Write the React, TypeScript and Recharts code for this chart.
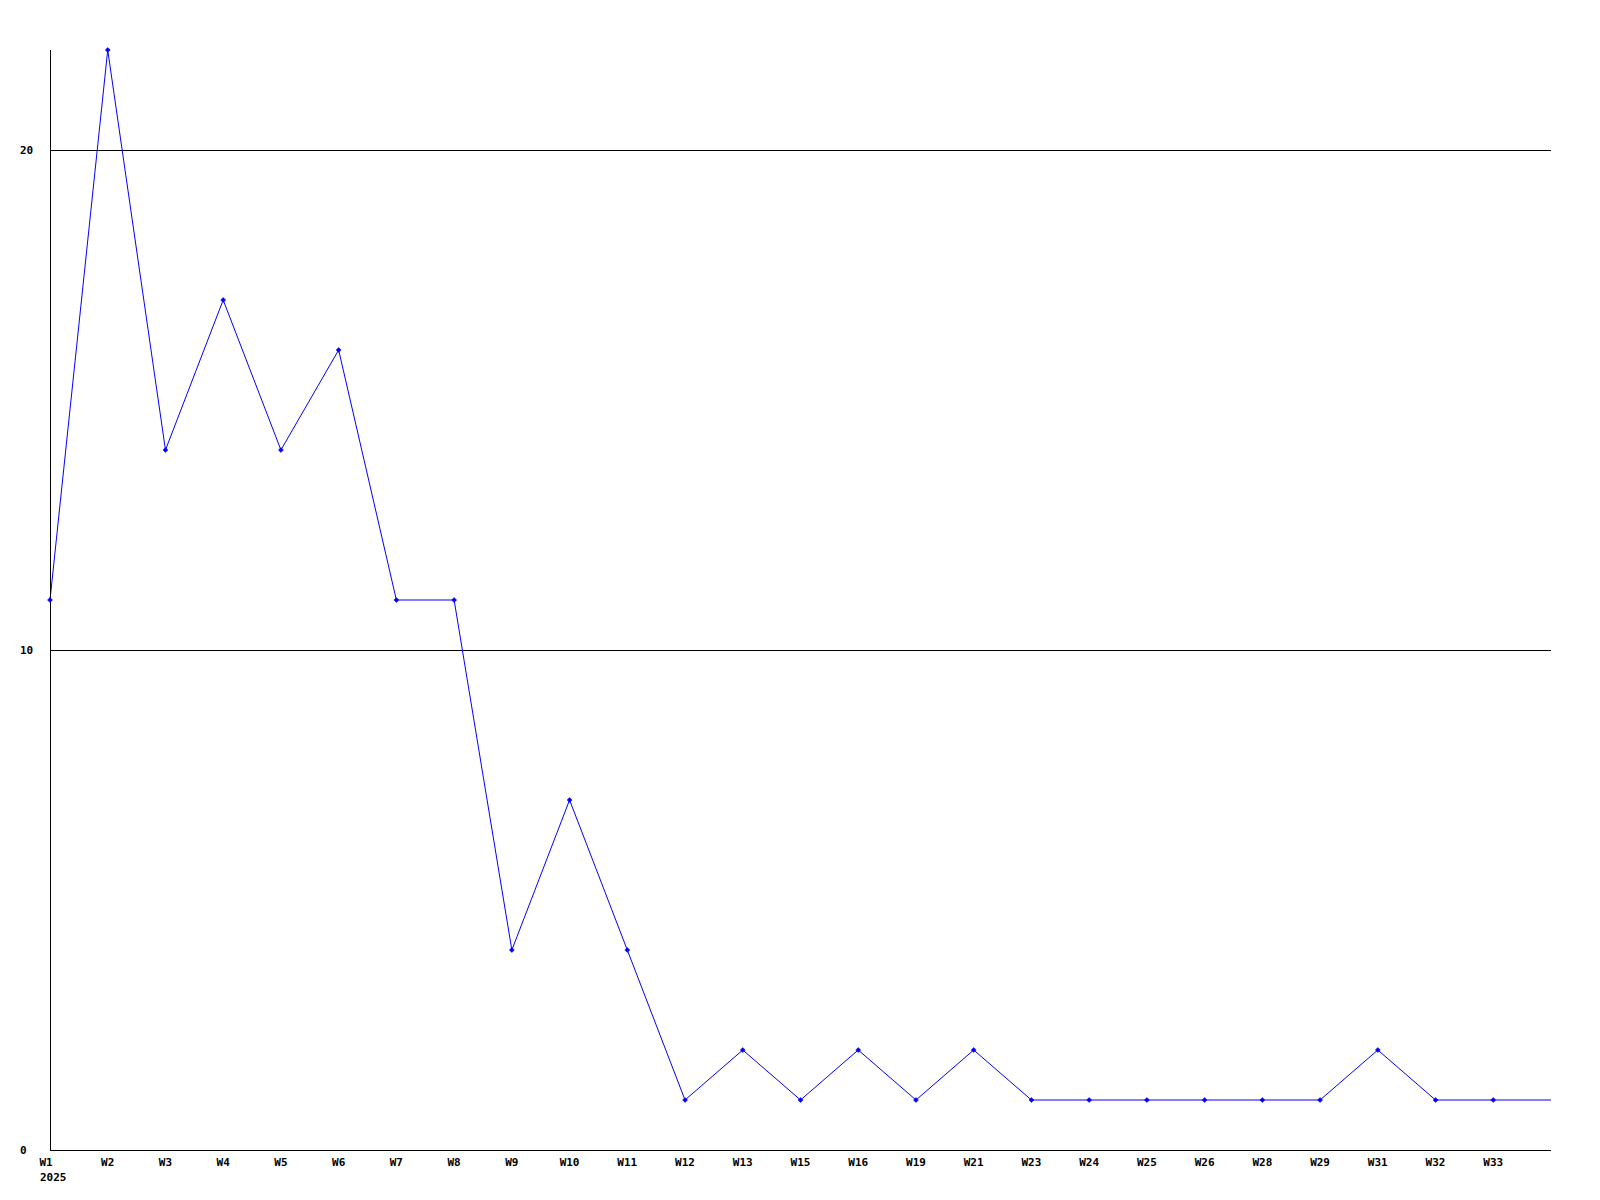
import { LineChart, Line, XAxis, YAxis, ReferenceLine } from "recharts";

const weeks = [
  "W1", "W2", "W3", "W4", "W5", "W6", "W7", "W8", "W9", "W10", "W11", "W12", "W13",
  "W15", "W16", "W19", "W21", "W23", "W24", "W25", "W26", "W28", "W29", "W31", "W32", "W33", "",
];
const counts = [11, 22, 14, 17, 14, 16, 11, 11, 4, 7, 4, 1, 2, 1, 2, 1, 2, 1, 1, 1, 1, 1, 1, 2, 1, 1, 1];
const yTicks = [0, 10, 20];
const gridValues = [10, 20];
const yearLabel = "2025";

const data = counts.map((v, i) => ({ idx: i, week: weeks[i], count: v }));
const xTicks = weeks.slice(0, weeks.length - 1).map((_, i) => i);

const FONT = "'DejaVu Sans Mono', 'Liberation Mono', monospace";

const XTick = (props: any) => {
  const { x, y, payload } = props;
  const label = weeks[payload.value];
  const first = payload.value === 0;
  return (
    <g>
      <text x={first ? x - 4 : x} y={y} dy={14} textAnchor="middle" fontFamily={FONT} fontSize={11} fontWeight="bold" fill="#000">
        {label}
      </text>
      {first && (
        <text x={x - 10} y={y} dy={29} textAnchor="start" fontFamily={FONT} fontSize={11} fontWeight="bold" fill="#000">
          {yearLabel}
        </text>
      )}
    </g>
  );
};

const YTick = (props: any) => {
  const { y, payload } = props;
  return (
    <text x={20} y={y} dy={4} textAnchor="start" fontFamily={FONT} fontSize={11} fontWeight="bold" fill="#000">
      {payload.value}
    </text>
  );
};

const Dot = (props: any) => {
  const { cx, cy, index } = props;
  if (index === counts.length - 1) return <g key={index} />;
  return (
    <path
      key={index}
      d={`M${cx - 2.5},${cy} L${cx},${cy - 2.5} L${cx + 2.5},${cy} L${cx},${cy + 2.5} Z`}
      fill="#0000ff"
      stroke="#0000ff"
      strokeWidth={0.5}
    />
  );
};

export default function App() {
  return (
    <div style={{ position: "absolute", left: 0, top: 0, width: 1600, height: 1200, background: "#fff" }}>
      <LineChart width={1600} height={1200} data={data} margin={{ top: 50, right: 49, left: 0, bottom: 0 }}>
        <XAxis
          dataKey="idx"
          type="number"
          domain={[0, 26]}
          ticks={xTicks}
          interval={0}
          height={50}
          tickLine={false}
          tickSize={0}
          axisLine={{ stroke: "#000", shapeRendering: "crispEdges" }}
          tick={<XTick />}
        />
        <YAxis
          type="number"
          domain={[0, 22]}
          ticks={yTicks}
          width={50}
          tickLine={false}
          tickSize={0}
          axisLine={{ stroke: "#000", shapeRendering: "crispEdges" }}
          tick={<YTick />}
        />
        {gridValues.map((g) => (
          <ReferenceLine key={g} y={g} stroke="#000" strokeWidth={1} shapeRendering="crispEdges" />
        ))}
        <Line
          type="linear"
          dataKey="count"
          stroke="#0000ff"
          strokeWidth={1}
          dot={<Dot />}
          activeDot={false}
          isAnimationActive={false}
        />
      </LineChart>
    </div>
  );
}
